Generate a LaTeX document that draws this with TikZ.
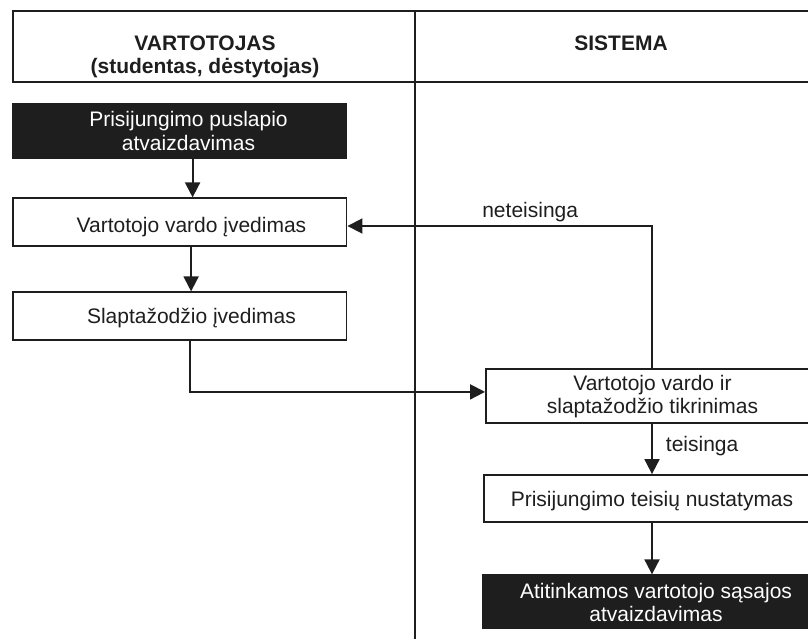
\documentclass[tikz,border=0pt]{standalone}
\usepackage{fontspec}
\setmainfont{Liberation Sans}
\usetikzlibrary{arrows.meta}
\definecolor{ink}{HTML}{1E1E1E}
\begin{document}
\begin{tikzpicture}[x=1pt,y=-1pt,
  every node/.style={font=\fontsize{21}{23.5}\selectfont, text=ink},
  frame/.style={draw=ink, line width=1.9pt, fill=white, inner sep=0pt},
  darkbox/.style={frame, fill=ink},
  txt/.style={inner sep=0pt, align=center, anchor=base},
  head/.style={txt, font=\fontsize{21}{22.5}\selectfont\bfseries},
  arr/.style={draw=ink, line width=1.9pt, -{Triangle[length=15pt,width=15pt]}}
]
\useasboundingbox (0,0) rectangle (808,639);

% lane header and lane divider
\draw[ink, line width=2pt] (850,11) -- (12.7,11) -- (12.7,82) -- (850,82);
\draw[ink, line width=2pt] (415,11) -- (415,660);
% (the base of a two-line node is the baseline of its last line)
\node[head] (hUser) at (205,73.5) {VARTOTOJAS\\(studentas, dėstytojas)};
\node[head] (hSys)  at (621,51) {SISTEMA};

% user lane
\node[darkbox, minimum width=333.8pt, minimum height=54.2pt] (b1) at (179.6,131.2) {};
\node[frame,   minimum width=333.8pt, minimum height=47.7pt] (b2) at (179.6,222.2) {};
\node[frame,   minimum width=333.8pt, minimum height=47.7pt] (b3) at (179.6,316.2) {};
\node[txt, text=white] (t1) at (188.5,150.5) {Prisijungimo puslapio\\atvaizdavimas};
\node[txt] (t2) at (191.5,232.7) {Vartotojo vardo įvedimas};
\node[txt] (t3) at (191.5,323) {Slaptažodžio įvedimas};

% system lane
\node[frame,   minimum width=332pt, minimum height=53.7pt] (b4) at (652,395.9) {};
\node[frame,   minimum width=336pt, minimum height=47.3pt] (b5) at (652,498.7) {};
\node[darkbox, minimum width=346pt, minimum height=53pt]   (b6) at (656,601.8) {};
\node[txt] (t4) at (652.5,413.5) {Vartotojo vardo ir\\slaptažodžio tikrinimas};
\node[txt] (t5) at (652,506) {Prisijungimo teisių nustatymas};
\node[txt, text=white] (t6) at (656,621.5) {Atitinkamos vartotojo sąsajos\\atvaizdavimas};

% flow
\draw[arr] ([xshift=13pt]b1.south) -- ([xshift=13pt]b2.north);
\draw[arr] ([xshift=11.5pt]b2.south) -- ([xshift=11.5pt]b3.north);
\draw[arr] ([xshift=10.5pt]b3.south) |- ([yshift=4pt]b4.west);
\draw[arr] (b4.north) |- ([yshift=-3.8pt]b2.east)
  node[pos=0.7, anchor=base, yshift=8pt, inner sep=0pt] (lNo) {neteisinga};
\draw[arr] (b4.south) -- (b5.north)
  node[midway, anchor=base west, xshift=13pt, yshift=-3pt, inner sep=0pt] (lYes) {teisinga};
\draw[arr] (b5.south) -- ([xshift=-4pt]b6.north);
\end{tikzpicture}
\end{document}
